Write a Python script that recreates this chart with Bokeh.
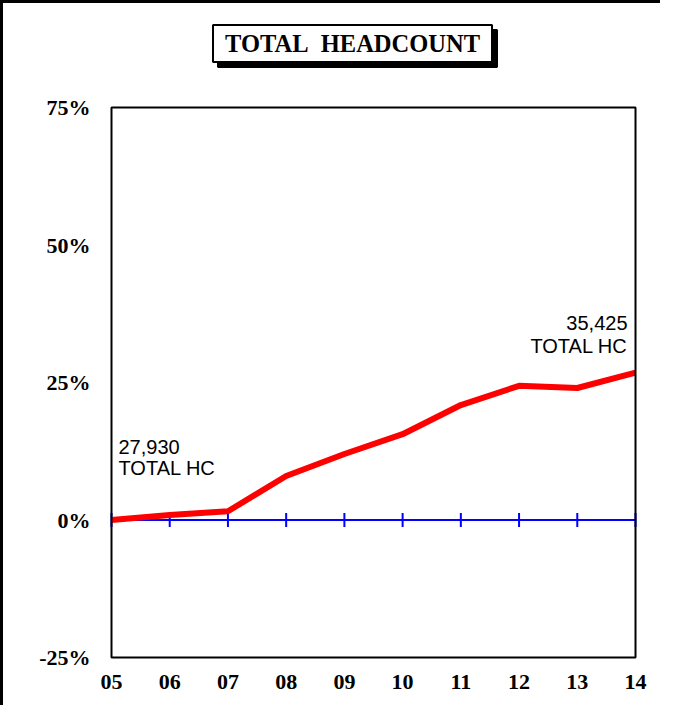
from bokeh.plotting import figure
from bokeh.models import Range1d, FixedTicker, Label, BoxAnnotation
from bokeh.embed import file_html
from bokeh.resources import INLINE
import math

years = ["05", "06", "07", "08", "09", "10", "11", "12", "13", "14"]
growth_pct = [0.0, 0.9, 1.6, 8.0, 12.0, 15.6, 20.9, 24.4, 24.0, 26.8]
y_ticks = [-25, 0, 25, 50, 75]
y_tick_labels = ["-25%", "0%", "25%", "50%", "75%"]
start_hc = "27,930"
end_hc = "35,425"
title_text = "TOTAL\u00a0\u00a0HEADCOUNT"

xs = list(range(len(years)))
n = len(years) - 1
y_lo, y_hi = y_ticks[0], y_ticks[-1]

# pixel scale of the plotting box
px_x = 524 / n          # px per x unit
px_y = 550 / (y_hi - y_lo)  # px per y unit
pad = 3
top_extra = 104         # px between canvas top and plot box top

W, H = 660, 705
p = figure(width=W, height=H, output_backend="svg", toolbar_location=None,
           x_range=Range1d(-pad / px_x, n + pad / px_x),
           y_range=Range1d(y_lo - pad / px_y, y_hi + top_extra / px_y),
           min_border_left=105, min_border_top=0, min_border_right=25, min_border_bottom=48)
p.styles = {"border-top": "3px solid black", "border-left": "3px solid black"}
p.background_fill_color = "white"
p.border_fill_color = "white"
p.outline_line_color = None
p.xgrid.visible = False
p.ygrid.visible = False

for ax in (p.xaxis[0], p.yaxis[0]):
    ax.axis_line_color = None
    ax.major_tick_line_color = None
    ax.minor_tick_line_color = None
    ax.major_tick_out = 0
    ax.major_tick_in = 0
    ax.major_label_text_font = "Liberation Serif"
    ax.major_label_text_font_style = "bold"
    ax.major_label_text_font_size = "22px"
    ax.major_label_text_color = "black"

p.xaxis.ticker = FixedTicker(ticks=xs)
p.xaxis.major_label_overrides = {i: y for i, y in enumerate(years)}
p.xaxis.major_label_standoff = 14
p.yaxis.ticker = FixedTicker(ticks=y_ticks)
p.yaxis.major_label_overrides = {t: l for t, l in zip(y_ticks, y_tick_labels)}
p.yaxis.major_label_standoff = 18

# plot box
p.add_layout(BoxAnnotation(left=0, right=n, bottom=y_lo, top=y_hi,
                           fill_alpha=0, line_color="black", line_alpha=1.0, line_width=2))

# zero line with tick marks
zeros = [0] * len(xs)
p.line(xs, zeros, line_color="#0000FF", line_width=2)
p.scatter(xs, zeros, marker="dash", angle=math.pi / 2, size=14,
          line_color="#0000FF", line_width=2)

# growth line
p.line(xs, growth_pct, line_color="#FF0000", line_width=6)

# annotations
lab_font = "Liberation Sans"
for txt, yy in ((start_hc, 13.3), ("TOTAL HC", 9.4)):
    p.add_layout(Label(x=0, y=yy, text=txt, x_offset=7, text_align="left",
                       text_baseline="middle", text_font=lab_font,
                       text_font_size="20px", text_color="black"))
for txt, yy in ((end_hc, 35.8), ("TOTAL HC", 31.6)):
    p.add_layout(Label(x=n, y=yy, text=txt, x_offset=-8, text_align="right",
                       text_baseline="middle", text_font=lab_font,
                       text_font_size="20px", text_color="black"))

# title box with drop shadow
tx = 241 / px_x
ty = y_hi + (107 - 43) / px_y
p.rect(x=[tx + 5 / px_x], y=[ty - 5 / px_y], width=279, height=37,
       width_units="screen", height_units="screen",
       fill_color="black", line_color="black", line_width=2)
p.rect(x=[tx], y=[ty], width=279, height=37,
       width_units="screen", height_units="screen",
       fill_color="white", line_color="black", line_width=2)
p.add_layout(Label(x=tx, y=ty, text=title_text, text_align="center", text_baseline="middle",
                   text_font="Liberation Serif", text_font_style="bold", text_font_size="24.5px",
                   text_color="black"))

open("out.html", "w").write(file_html(p, INLINE))
